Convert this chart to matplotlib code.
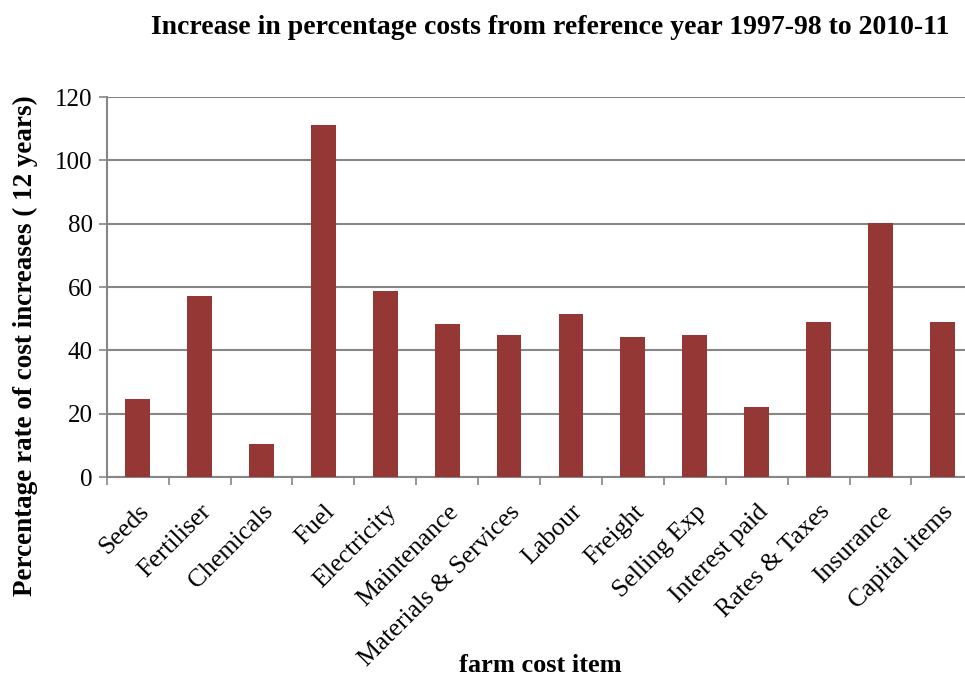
import numpy as np
import matplotlib
matplotlib.use('Agg')
import matplotlib.pyplot as plt

# farm cost items and % increase 1997-98 -> 2010-11
items = ["Seeds", "Fertiliser", "Chemicals", "Fuel", "Electricity", "Maintenance",
         "Materials & Services", "Labour", "Freight", "Selling Exp", "Interest paid",
         "Rates & Taxes", "Insurance", "Capital items"]
increase = [24.5, 57.1, 10.3, 111.1, 58.6, 48.3, 44.8, 51.6, 44.1, 45.0, 22.1, 49.1, 80.2, 49.1]
yticks = [0, 20, 40, 60, 80, 100, 120]

plt.rcParams['font.family'] = ['Liberation Serif', 'DejaVu Serif']

barcol = '#953735'
gridcol = '#868686'

fig = plt.figure(figsize=(9.65, 6.77), dpi=100)
ax = fig.add_axes([0.1106, 0.2954, 0.898, 0.5613])

x = np.arange(len(items))
ax.bar(x, increase, width=0.4, color=barcol, zorder=3)

ax.set_xlim(-0.5, len(items) - 0.5)
ax.set_ylim(0, 120)
ax.set_yticks(yticks)
ax.set_yticklabels([str(v) for v in yticks], fontsize=18)
ax.yaxis.grid(True, color=gridcol, lw=1.5, zorder=0)
ax.tick_params(axis='y', length=6, width=1.2, color=gridcol, pad=4)

ax.set_xticks(x)
ax.set_xticklabels(items, rotation=45, ha='right', rotation_mode='anchor', fontsize=18.5)
ax.set_xticks(np.arange(len(items) + 1) - 0.5, minor=True)
ax.tick_params(axis='x', which='major', length=0, pad=17)
ax.tick_params(axis='x', which='minor', length=6, width=1.2, color=gridcol)

for s in ['top', 'right']:
    ax.spines[s].set_visible(False)
for s in ['left', 'bottom']:
    ax.spines[s].set_color(gridcol)
    ax.spines[s].set_linewidth(1.5)

fig.text(0.57, 0.96, "Increase in percentage costs from reference year 1997-98 to 2010-11",
         ha='center', va='center', fontsize=20, fontweight='bold')
fig.text(0.026, 0.489, "Percentage rate of cost increases ( 12 years)", rotation=90,
         ha='center', va='center', fontsize=19.5, fontweight='bold')
fig.text(0.56, 0.017, "farm cost item", ha='center', va='center', fontsize=19, fontweight='bold')

fig.savefig('out.png', dpi=100)
